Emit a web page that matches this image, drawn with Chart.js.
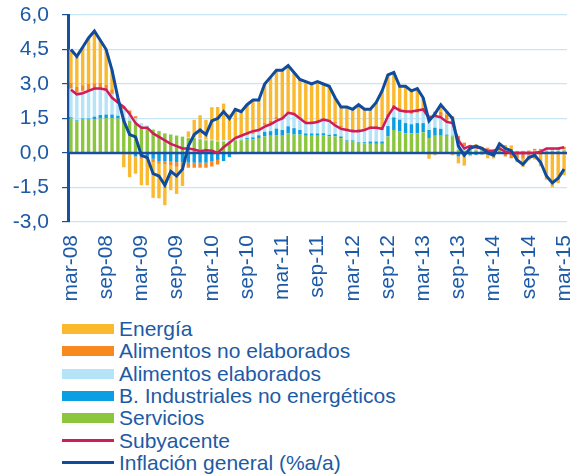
<!DOCTYPE html>
<html lang="es">
<head>
<meta charset="utf-8">
<title>Contribuciones a la inflación</title>
<script src="https://cdn.jsdelivr.net/npm/chart.js@4.4.1/dist/chart.umd.min.js"></script>
<style>
  body { margin: 0; background: #fff; font-family: 'Liberation Sans', Arial, sans-serif; }
  #wrap { position: relative; width: 581px; height: 476px; }
  #chartBox { position: absolute; left: 0; top: 0; width: 581px; height: 310px; }
  #legend { position: absolute; left: 62px; top: 318px; }
  .item { display: flex; align-items: center; height: 22.3px; font-size: 21px; color: #1d5aa6; white-space: nowrap; }
  .sw { width: 52px; height: 10px; margin-right: 5px; flex: none; }
  .sw.line { height: 3px; }
</style>
</head>
<body>
<div id="wrap">
  <div id="chartBox"><canvas id="inflacionChart"></canvas></div>
  <div id="legend"></div>
</div>
<script>
const meses = [
    'mar-08','abr-08','may-08','jun-08','jul-08','ago-08','sep-08','oct-08','nov-08','dic-08',
    'ene-09','feb-09','mar-09','abr-09','may-09','jun-09','jul-09','ago-09','sep-09','oct-09','nov-09','dic-09',
    'ene-10','feb-10','mar-10','abr-10','may-10','jun-10','jul-10','ago-10','sep-10','oct-10','nov-10','dic-10',
    'ene-11','feb-11','mar-11','abr-11','may-11','jun-11','jul-11','ago-11','sep-11','oct-11','nov-11','dic-11',
    'ene-12','feb-12','mar-12','abr-12','may-12','jun-12','jul-12','ago-12','sep-12','oct-12','nov-12','dic-12',
    'ene-13','feb-13','mar-13','abr-13','may-13','jun-13','jul-13','ago-13','sep-13','oct-13','nov-13','dic-13',
    'ene-14','feb-14','mar-14','abr-14','may-14','jun-14','jul-14','ago-14','sep-14','oct-14','nov-14','dic-14',
    'ene-15','feb-15','mar-15'
];

const ticksY = [-3, -1.5, 0, 1.5, 3, 4.5, 6];

const servicios = [
    1.50,1.38,1.45,1.45,1.48,1.50,1.52,1.52,1.50,1.45,
    1.40,1.25,1.15,1.10,1.00,0.95,0.85,0.80,0.75,0.70,
    0.65,0.65,0.60,0.55,0.55,0.50,0.50,0.50,0.55,0.55,
    0.60,0.60,0.65,0.72,0.75,0.78,0.75,0.86,0.80,0.80,
    0.75,0.75,0.75,0.78,0.72,0.72,0.65,0.52,0.52,0.45,
    0.42,0.40,0.40,0.40,0.72,1.00,0.95,0.85,0.85,0.85,
    0.90,0.65,0.75,0.75,0.75,0.72,0.15,0.10,0.12,0.12,
    0.12,0.10,0.08,0.12,0.08,0.08,0.08,0.08,0.08,0.08,
    0.08,0.08,0.10,0.10,0.12
];

const industriales = [
    0.05,0.04,0.05,0.05,0.10,0.15,0.15,0.15,0.12,0.05,
    -0.05,-0.15,-0.15,-0.15,-0.25,-0.35,-0.35,-0.35,-0.40,-0.40,
    -0.42,-0.42,-0.42,-0.42,-0.37,-0.30,-0.35,-0.18,-0.05,0.02,
    0.05,0.08,0.12,0.20,0.20,0.28,0.25,0.30,0.28,0.20,
    0.10,0.10,0.10,0.08,0.07,0.10,0.07,0.03,0.03,0.03,
    0.05,0.10,0.10,0.10,0.45,0.55,0.50,0.45,0.40,0.45,
    0.40,0.35,0.35,0.30,0.05,0.03,-0.15,-0.10,-0.08,-0.08,
    -0.06,-0.05,-0.05,-0.04,-0.03,-0.03,-0.03,-0.03,-0.02,-0.02,
    -0.02,-0.02,-0.02,-0.02,-0.02
];

const alimElaborados = [
    1.25,1.20,1.20,1.20,1.15,1.10,1.05,0.90,0.55,0.40,
    0.30,0.25,0.15,0.10,0.05,0.02,0.02,0.02,0.03,0.03,
    0.03,0.03,0.03,0.03,0.03,0.03,0.05,0.05,0.08,0.10,
    0.12,0.15,0.20,0.30,0.35,0.40,0.45,0.55,0.55,0.50,
    0.45,0.45,0.50,0.55,0.55,0.45,0.40,0.45,0.40,0.45,
    0.50,0.55,0.55,0.50,0.40,0.40,0.35,0.45,0.45,0.45,
    0.50,0.55,0.55,0.50,0.55,0.50,0.30,0.20,0.12,0.12,
    0.10,0.08,0.06,0.05,0.04,0.03,0.02,0.02,0.02,0.02,
    0.02,0.03,0.03,0.03,0.03
];

const alimNoElaborados = [
    0.25,0.25,0.25,0.30,0.30,0.30,0.25,0.20,0.15,0.12,
    0.15,0.10,-0.10,-0.10,-0.15,-0.12,-0.15,-0.20,-0.20,-0.22,
    -0.22,-0.22,-0.22,-0.22,-0.22,-0.20,0.00,0.00,0.02,0.03,
    0.05,0.05,0.05,0.08,0.10,0.10,0.10,0.10,0.08,0.08,
    0.08,0.08,0.10,0.10,0.10,0.08,0.08,0.08,0.10,0.12,
    0.10,0.12,0.15,0.15,0.15,0.15,0.15,0.15,0.15,0.15,
    0.15,0.10,0.15,0.25,0.30,0.35,0.30,0.15,0.10,0.06,
    0.05,0.05,0.00,0.02,-0.12,-0.20,-0.20,-0.22,0.02,0.08,
    0.08,0.05,0.06,0.08,0.12
];

const energia = [
    1.45,1.33,1.65,2.00,2.27,1.85,1.53,0.83,0.08,-0.62,
    -1.00,-0.75,-1.15,-1.15,-1.55,-1.50,-1.77,-1.07,-1.18,-0.81,
    0.26,0.76,1.01,0.86,1.41,1.47,1.60,1.13,1.30,1.10,
    1.28,1.42,1.28,1.70,1.90,2.04,2.05,1.99,1.79,1.62,
    1.72,1.62,1.65,1.49,1.46,1.05,0.80,0.92,0.85,1.05,
    0.83,0.73,1.00,1.55,1.68,1.40,0.95,1.00,0.85,0.90,
    0.45,-0.25,-0.10,0.30,0.15,-0.10,-0.30,-0.45,-0.06,0.08,
    -0.01,-0.18,-0.19,0.25,0.23,0.22,-0.17,-0.35,-0.30,-0.26,
    -0.56,-1.14,-1.47,-1.29,-0.95
];

const subyacente = [
    2.75,2.55,2.60,2.70,2.80,2.80,2.75,2.40,2.20,2.00,
    1.70,1.30,1.10,1.10,0.85,0.70,0.55,0.40,0.30,0.20,
    0.20,0.15,0.08,0.12,0.10,0.00,0.25,0.45,0.65,0.75,
    0.85,0.95,1.00,1.15,1.25,1.40,1.50,1.75,1.70,1.50,
    1.30,1.30,1.35,1.45,1.40,1.20,1.05,1.00,0.95,0.95,
    1.00,1.10,1.10,1.05,1.60,2.00,1.85,1.80,1.80,1.85,
    1.90,1.50,1.62,1.55,1.35,1.30,0.55,0.20,0.30,0.25,
    0.20,0.10,0.10,0.20,0.05,0.00,0.00,0.00,0.00,0.00,
    0.05,0.20,0.20,0.20,0.25
];

const inflacionGeneral = [
    4.5,4.2,4.6,5.0,5.3,4.9,4.5,3.6,2.4,1.4,
    0.8,0.7,-0.1,-0.2,-0.9,-1.0,-1.4,-0.8,-1.0,-0.7,
    0.3,0.8,1.0,0.8,1.4,1.5,1.8,1.5,1.9,1.8,
    2.1,2.3,2.3,3.0,3.3,3.6,3.6,3.8,3.5,3.2,
    3.1,3.0,3.1,3.0,2.9,2.4,2.0,2.0,1.9,2.1,
    1.9,1.9,2.2,2.7,3.4,3.5,2.9,2.9,2.7,2.8,
    2.4,1.4,1.7,2.1,1.8,1.5,0.3,-0.1,0.2,0.3,
    0.2,0.0,-0.1,0.4,0.2,0.1,-0.3,-0.5,-0.2,-0.1,
    -0.4,-1.0,-1.3,-1.1,-0.7
];

const azulTexto = '#1d5aa6';
const azulEje = '#17509e';

Chart.defaults.font.family = "'Liberation Sans', Arial, sans-serif";
Chart.defaults.color = azulTexto;

function barra(label, data, color) {
    return {
        type: 'bar',
        label: label,
        data: data,
        backgroundColor: color,
        borderWidth: 0,
        stack: 'barras',
        order: 2,
        barPercentage: 0.58,
        categoryPercentage: 1.0
    };
}

function linea(label, data, color, width, order) {
    return {
        type: 'line',
        label: label,
        data: data,
        borderColor: color,
        backgroundColor: color,
        borderWidth: width,
        pointRadius: 0,
        tension: 0,
        fill: false,
        stack: label,
        order: order
    };
}

// linea del cero por encima de las barras y por debajo de las lineas
const lineaCero = {
    id: 'lineaCero',
    beforeDatasetDraw: function(chart, args) {
        if (args.index !== 5) return;
        const y = chart.scales.y.getPixelForValue(0);
        const ctx = chart.ctx;
        ctx.save();
        ctx.strokeStyle = azulEje;
        ctx.lineWidth = 2.5;
        ctx.beginPath();
        ctx.moveTo(chart.chartArea.left, y);
        ctx.lineTo(chart.chartArea.right, y);
        ctx.stroke();
        ctx.restore();
    }
};

const ctx = document.getElementById('inflacionChart').getContext('2d');
const inflacionChart = new Chart(ctx, {
    data: {
        labels: meses,
        datasets: [
            barra('Servicios', servicios, '#8cc63f'),
            barra('B. Industriales no energéticos', industriales, '#0a9ee2'),
            barra('Alimentos elaborados', alimElaborados, '#b5e3f7'),
            barra('Alimentos no elaborados', alimNoElaborados, '#f7891f'),
            barra('Energía', energia, '#fbb930'),
            linea('Subyacente', subyacente, '#d01c5c', 2.5, 1),
            linea('Inflación general (%a/a)', inflacionGeneral, '#0f4c9e', 3, 0)
        ]
    },
    options: {
        responsive: true,
        maintainAspectRatio: false,
        animation: false,
        layout: { padding: { top: 15, right: 14, left: 0, bottom: 0 } },
        plugins: {
            legend: { display: false },
            tooltip: { enabled: false }
        },
        scales: {
            x: {
                type: 'category',
                stacked: true,
                offset: true,
                grid: { display: false, drawTicks: false },
                border: { display: false },
                ticks: {
                    autoSkip: false,
                    minRotation: 90,
                    maxRotation: 90,
                    padding: 13,
                    color: azulTexto,
                    font: { size: 21 },
                    // una etiqueta cada seis meses
                    callback: function(v, i) {
                        return i % 6 === 0 ? meses[i] : '';
                    }
                },
                afterFit: function(scale) {
                    scale.height = 88;
                    scale.paddingLeft = 0;
                    scale.paddingRight = 0;
                }
            },
            y: {
                stacked: true,
                min: ticksY[0],
                max: ticksY[ticksY.length - 1],
                afterBuildTicks: function(scale) {
                    scale.ticks = ticksY.map(function(v) { return { value: v }; });
                },
                grid: {
                    color: function(c) {
                        return c.tick && c.tick.value === 0 ? 'rgba(0,0,0,0)' : '#c6e6f6';
                    },
                    lineWidth: 1.2,
                    tickColor: azulEje,
                    tickLength: 6
                },
                border: { color: azulEje, width: 3 },
                ticks: {
                    padding: 13,
                    color: azulTexto,
                    font: { size: 21 },
                    callback: function(v) {
                        return v.toFixed(1).replace('.', ',');
                    }
                },
                afterFit: function(scale) {
                    scale.width = 68;
                    scale.paddingTop = 0;
                    scale.paddingBottom = 0;
                }
            }
        }
    },
    plugins: [lineaCero]
});

// leyenda en columna, como en el original
const ordenLeyenda = [4, 3, 2, 1, 0, 5, 6];
const legendDiv = document.getElementById('legend');
ordenLeyenda.forEach(function(i) {
    const ds = inflacionChart.data.datasets[i];
    const item = document.createElement('div');
    item.className = 'item';
    const sw = document.createElement('span');
    sw.className = ds.type === 'line' ? 'sw line' : 'sw';
    sw.style.background = ds.type === 'line' ? ds.borderColor : ds.backgroundColor;
    const txt = document.createElement('span');
    txt.innerText = ds.label;
    item.appendChild(sw);
    item.appendChild(txt);
    legendDiv.appendChild(item);
});
</script>
</body>
</html>
